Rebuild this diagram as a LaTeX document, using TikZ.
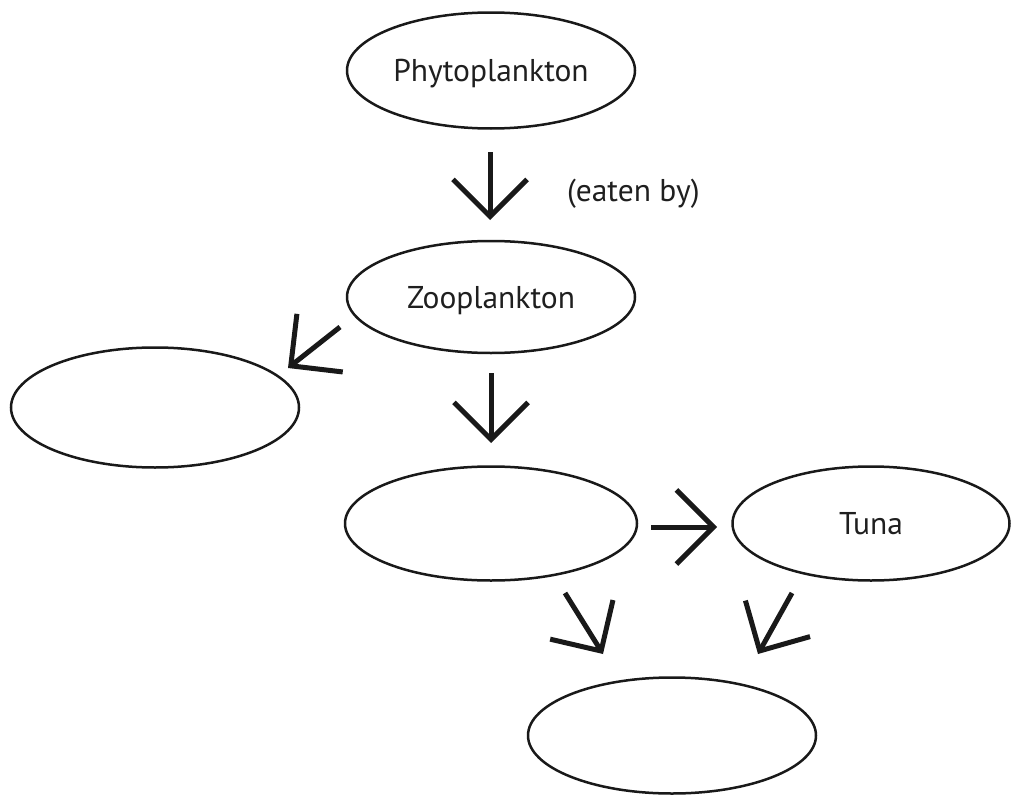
\documentclass[tikz,border=0pt]{standalone}
\usepackage{fontspec}
\setmainfont{PT Sans}
\usetikzlibrary{shapes.geometric,arrows.meta}
\tikzset{
  oval/.style={ellipse, draw=black!90, line width=2.5pt, inner sep=0pt,
    minimum width=288pt, minimum height=116pt,
    font=\fontsize{31.5}{36}\selectfont, text=black!88, text height=22pt, text depth=0pt},
  flow/.style={draw=black!90, line width=5pt, line cap=butt,
    -{Straight Barb[length=37pt,width=74pt]}},
  note/.style={font=\fontsize{31.5}{36}\selectfont, text=black!88, inner sep=0pt, anchor=base west}
}
\begin{document}
\begin{tikzpicture}[x=1pt,y=-1pt]
\useasboundingbox (0,0) rectangle (1013,795);
\node[oval] (phyto) at (491,70.5) {Phytoplankton};
\node[oval, minimum height=112pt] (zoo) at (491,297) {Zooplankton};
\node[oval, minimum height=120pt] (left) at (155,407.5) {};
\node[oval, minimum width=292pt, minimum height=114pt] (mid) at (491,523.5) {};
\node[oval, minimum width=277pt, minimum height=114pt] (tuna) at (871,523.5) {Tuna};
\node[oval] (bottom) at (672,735.5) {};
\node[note] (eaten) at (567,201) {(eaten by)};
\coordinate (a1s) at (490,152); \coordinate (a1e) at (490,220);
\coordinate (a2s) at (340,327); \coordinate (a2e) at (288,368);
\coordinate (a3s) at (491,373); \coordinate (a3e) at (491,443);
\coordinate (a4s) at (651,527); \coordinate (a4e) at (717,527);
\coordinate (a5s) at (565,593); \coordinate (a5e) at (603,654);
\coordinate (a6s) at (792,593); \coordinate (a6e) at (758,654);
\draw[flow] (a1s) -- (a1e);
\draw[flow] (a2s) -- (a2e);
\draw[flow] (a3s) -- (a3e);
\draw[flow] (a4s) -- (a4e);
\draw[flow] (a5s) -- (a5e);
\draw[flow] (a6s) -- (a6e);
\end{tikzpicture}
\end{document}
